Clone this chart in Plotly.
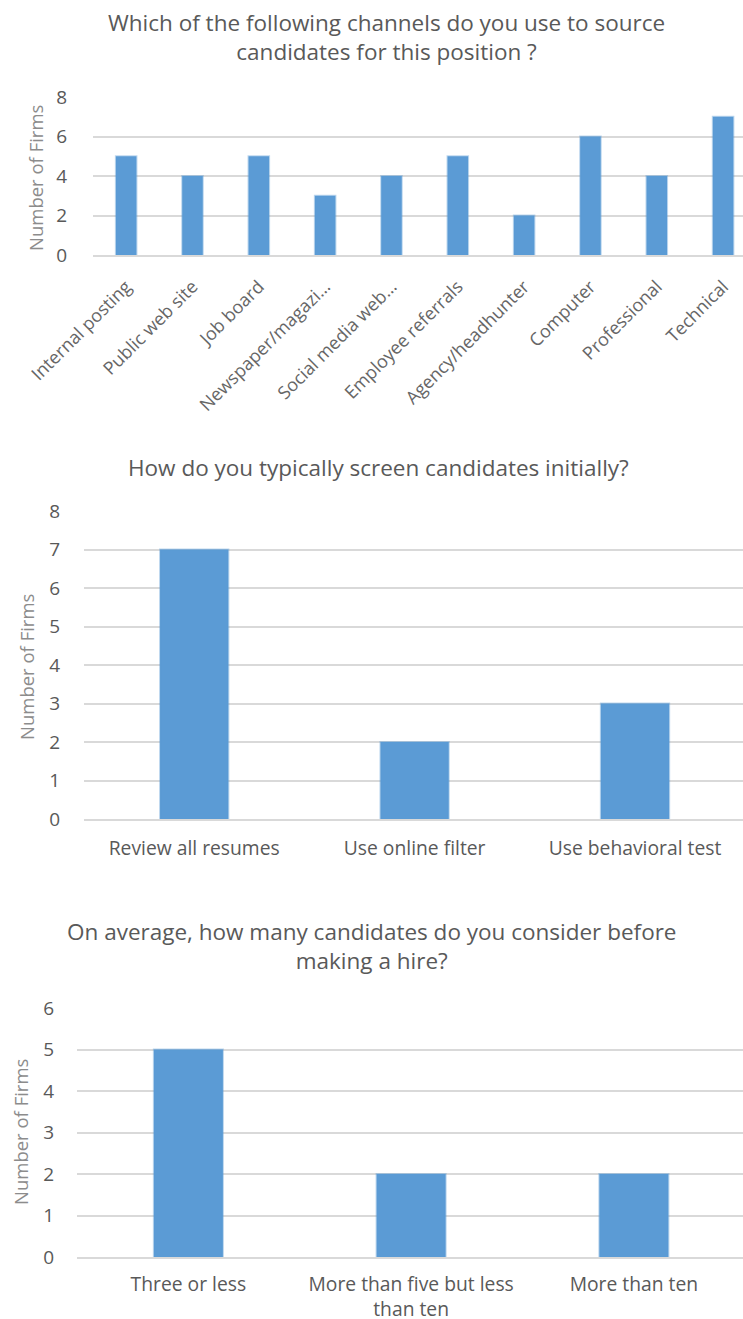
import plotly.graph_objects as go

# Survey responses (number of firms per answer)
channels = ["Internal posting", "Public web site", "Job board", "Newspaper/magazi…",
            "Social media web…", "Employee referrals", "Agency/headhunter",
            "Computer", "Professional", "Technical"]
channel_counts = [5, 4, 5, 3, 4, 5, 2, 6, 4, 7]

screening = ["Review all resumes", "Use online filter", "Use behavioral test"]
screening_counts = [7, 2, 3]

pool_sizes = ["Three or less", "More than five but less<br>than ten", "More than ten"]
pool_counts = [5, 2, 2]

titles = [
    "Which of the following channels do you use to source<br>candidates for this position ?",
    "How do you typically screen candidates initially?",
    "On average, how many candidates do you consider before<br>making a hire?",
]

W, H = 743, 1319
FONT = "Open Sans, Lato, sans-serif"
TEXT = "#595959"
AXIS_TITLE = "#8C8C8C"
GRID = "#D9D9D9"
BAR = "#5B9BD5"


def px_x(p):
    return p / W


def px_y(p):
    return 1 - p / H


fig = go.Figure()

panels = [
    # (cats, vals, x-left px, top px, bottom px, ymax, xmax, dtick, y ticklen, x ticklen)
    (channels, channel_counts, 93, 97, 255, 8, 9.3, 2, 21, 12),
    (screening, screening_counts, 84, 511, 819, 8, 2.49, 1, 19, 11),
    (pool_sizes, pool_counts, 77, 1008, 1257, 6, 2.49, 1, 18, 9),
]

layout = dict(
    width=W, height=H, margin=dict(l=0, r=0, t=0, b=0, autoexpand=False),
    paper_bgcolor="white", plot_bgcolor="white",
    font=dict(family=FONT, color=TEXT),
)

suffix = ["", "2", "3"]
for i, (cats, vals, left, top, bottom, ymax, xmax, dt, ylen, xlen) in enumerate(panels):
    s = suffix[i]
    fig.add_trace(go.Bar(
        x=cats, y=vals, xaxis="x" + s, yaxis="y" + s,
        marker=dict(color=BAR, line=dict(color="rgba(91,155,213,0.4)", width=2)),
        width=0.31, showlegend=False, hoverinfo="x+y",
    ))
    layout["xaxis" + s] = dict(
        domain=[px_x(left), 1], range=[-0.5, xmax], anchor="y" + s,
        showgrid=False, showline=True, linecolor=GRID, linewidth=2,
        tickfont=dict(size=18 if i == 0 else 19.3,
                      color="#666666" if i == 0 else TEXT, family=FONT),
        tickangle=-45 if i == 0 else 0,
        ticks="outside", ticklen=xlen, tickcolor="rgba(0,0,0,0)",
        automargin=False, fixedrange=True,
    )
    layout["yaxis" + s] = dict(
        domain=[px_y(bottom), px_y(top)], range=[0, ymax], anchor="x" + s,
        dtick=dt, showgrid=True, gridcolor=GRID, gridwidth=2,
        zeroline=False, showline=False,
        tickfont=dict(size=19, color=TEXT, family=FONT),
        ticks="outside", ticklen=ylen, tickcolor="rgba(0,0,0,0)",
        automargin=False, fixedrange=True,
    )

fig.update_layout(**layout)

# Chart titles
title_pos = [(386, 37), (378, 467), (372, 946)]
for t, (cx, cy) in zip(titles, title_pos):
    fig.add_annotation(text=t, x=px_x(cx), y=px_y(cy), xref="paper", yref="paper",
                       showarrow=False, xanchor="center", yanchor="middle",
                       font=dict(size=22.5, color=TEXT, family=FONT))

# Y-axis titles
ytitle_pos = [(36, 178), (27, 667), (20, 1132)]
for cx, cy in ytitle_pos:
    fig.add_annotation(text="Number of Firms", x=px_x(cx), y=px_y(cy), xref="paper",
                       yref="paper", showarrow=False, textangle=-90,
                       xanchor="center", yanchor="middle",
                       font=dict(size=18.5, color=AXIS_TITLE, family=FONT))

fig.write_html("out.html")
